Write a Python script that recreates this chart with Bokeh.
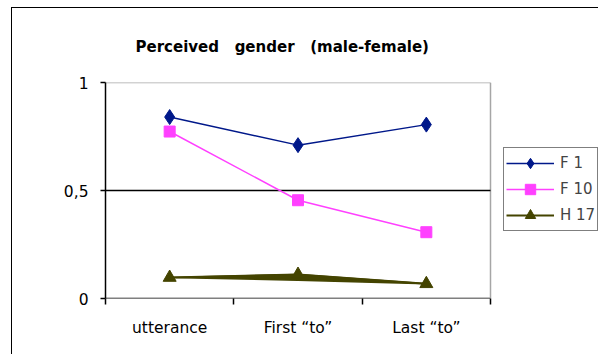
from bokeh.plotting import figure
from bokeh.models import (FixedTicker, Legend, LegendItem, Range1d,
                          InlineStyleSheet)
from bokeh.embed import file_html
from bokeh.resources import INLINE

# Perceived gender scores (0 = male, 1 = female) per speaker and position
categories = ["utterance", "First \u201cto\u201d", "Last \u201cto\u201d"]
f1 = [0.84, 0.71, 0.805]
f10 = [0.773, 0.455, 0.307]
h17 = [0.097, 0.111, 0.068]
h17_lower = [0.097, 0.085, 0.068]   # lower edge of the thick H 17 stroke

y_ticks = [0, 0.5, 1]
y_tick_labels = {0: "0", 0.5: "0,5", 1: "1"}

title_text = "Perceived\u00a0\u00a0\u00a0gender\u00a0\u00a0\u00a0(male-female)"

FONT = "DejaVu Sans"
W, H = 598, 354
AREA_LEFT, AREA_RIGHT, AREA_TOP, AREA_BOTTOM = 105, 490, 82, 298

n = len(categories)
x = [i + 0.5 for i in range(n)]
# the frame runs on to the right edge so the legend can sit beside the plot area;
# the x range is stretched so that the categories fill the plot area only
x_end = n * (W - AREA_LEFT) / (AREA_RIGHT - AREA_LEFT)

p = figure(width=W, height=H, output_backend="svg", toolbar_location=None,
           x_range=Range1d(0, x_end), y_range=Range1d(0, 1),
           min_border_left=AREA_LEFT, min_border_right=0,
           min_border_top=AREA_TOP, min_border_bottom=H - AREA_BOTTOM)
p.background_fill_color = "white"
p.border_fill_color = "white"
p.outline_line_alpha = 0
p.xgrid.visible = False
p.ygrid.visible = False

# title
p.title.text = title_text
p.title.text_font = FONT
p.title.text_font_style = "bold"
p.title.text_font_size = "15px"
p.title.text_color = "black"
p.title.align = "left"
p.title.offset = 30
p.title.standoff = 54

# x axis: labels at category centres, ticks on the category boundaries
p.xaxis.ticker = FixedTicker(ticks=x, minor_ticks=list(range(n + 1)))
p.xaxis.major_label_overrides = {xi: c for xi, c in zip(x, categories)}
p.xaxis.axis_line_alpha = 0
p.xaxis.major_tick_out = 0
p.xaxis.major_tick_in = 0
p.xaxis.minor_tick_out = 6
p.xaxis.minor_tick_in = 0
p.xaxis.minor_tick_line_color = "black"
p.xaxis.minor_tick_line_width = 1.5
p.xaxis.major_label_standoff = 14

p.yaxis.ticker = FixedTicker(ticks=y_ticks, minor_ticks=[])
p.yaxis.major_label_overrides = y_tick_labels
p.yaxis.axis_line_color = "black"
p.yaxis.axis_line_width = 1.5
p.yaxis.major_tick_out = 5
p.yaxis.major_tick_in = 0
p.yaxis.major_tick_line_width = 1.5
p.yaxis.major_label_standoff = 12

for ax in (p.xaxis, p.yaxis):
    ax.major_tick_line_color = "black"
    ax.major_label_text_font = FONT
    ax.major_label_text_font_size = "15.5px"
    ax.major_label_text_color = "black"

# plot-area edges (grey top and right, black base) and the 0,5 gridline
p.segment(x0=[0, 0], y0=[y_ticks[-1], y_ticks[0]], x1=[n, n], y1=[y_ticks[-1], y_ticks[0]],
          line_color=["#a6a6a6", "black"], line_width=1.5)
p.segment(x0=[n], y0=[y_ticks[0]], x1=[n], y1=[y_ticks[-1]],
          line_color="#a6a6a6", line_width=1.5)
p.segment(x0=[0], y0=[y_ticks[1]], x1=[n], y1=[y_ticks[1]],
          line_color="black", line_width=1.5)

# series
F1_C, F10_C, H17_C = "#00188a", "#ff40ff", "#444400"

p.patch(x + x[1:2], h17 + h17_lower[1:2], fill_color=H17_C, line_color=H17_C,
        line_width=1.5)
r_h17_l = p.line(x, h17, line_color=H17_C, line_width=2)
r_h17_m = p.scatter(x, h17, marker="triangle", size=13, fill_color=H17_C, line_color=H17_C)

r_f10_l = p.line(x, f10, line_color=F10_C, line_width=1.5)
r_f10_m = p.scatter(x, f10, marker="square", size=11, fill_color=F10_C, line_color=F10_C)

r_f1_l = p.line(x, f1, line_color=F1_C, line_width=1.5)
r_f1_m = p.scatter(x, f1, marker="diamond", size=15, fill_color=F1_C, line_color=F1_C)

legend = Legend(items=[
    LegendItem(label="F 1", renderers=[r_f1_l, r_f1_m]),
    LegendItem(label="F 10", renderers=[r_f10_l, r_f10_m]),
    LegendItem(label="H 17", renderers=[r_h17_l, r_h17_m]),
], glyph_width=48, glyph_height=26, spacing=0, padding=2,
   margin=0, label_standoff=6, label_text_font=FONT, label_text_font_size="15px",
   border_line_color="black", border_line_width=1.5, background_fill_alpha=1)
legend.location = (AREA_RIGHT - AREA_LEFT + 13, 67)
p.add_layout(legend, "center")

# outer chart-area frame (left and top edges; the rest runs off the page)
p.stylesheets = [InlineStyleSheet(css="""
:host { position: relative; overflow: hidden; }
:host::after {
  content: "";
  position: absolute;
  left: 11px; top: 7px; right: -20px; bottom: -20px;
  border-left: 1.5px solid #000;
  border-top: 1.5px solid #000;
  pointer-events: none;
}
""")]

open("out.html", "w").write(file_html(p, INLINE))
